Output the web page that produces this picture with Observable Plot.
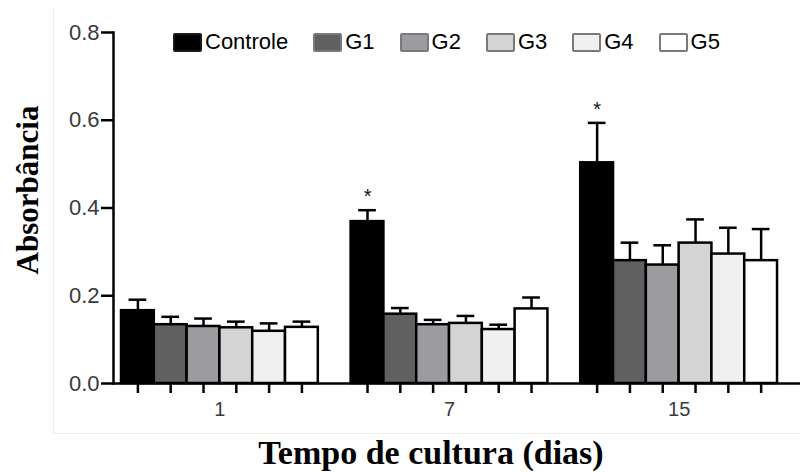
<!DOCTYPE html>
<html>
<head>
<meta charset="utf-8">
<script src="https://cdn.jsdelivr.net/npm/d3@7"></script>
<script src="https://cdn.jsdelivr.net/npm/@observablehq/plot@0.6"></script>
<style>
  html, body { margin: 0; padding: 0; background: #fff; }
  #wrap { position: relative; width: 800px; height: 472px; overflow: hidden; }
  #wrap svg { position: absolute; left: 0; top: 0; }
  .legend { position: absolute; left: 173px; top: 29px; display: flex; align-items: center; gap: 25px;
            font-family: "Liberation Sans", Arial, sans-serif; font-size: 22px; color: #000; }
  .legend .item { display: flex; align-items: center; gap: 3px; }
  .legend .sw { width: 25px; height: 15px; border: 2px solid #7a7a7a; border-radius: 2px; }
  .ytitle { position: absolute; left: 28px; top: 190px; transform: translate(-50%, -50%) rotate(-90deg);
            font-family: "Liberation Serif", "Times New Roman", serif; font-weight: bold; font-size: 31px; white-space: nowrap; }
  .xtitle { position: absolute; left: 62px; width: 738px; top: 434px; text-align: center;
            font-family: "Liberation Serif", "Times New Roman", serif; font-weight: bold; font-size: 34px; white-space: nowrap; }
  .panel { position: absolute; left: 53px; top: 8px; width: 747px; height: 425px;
           border-left: 1px solid #ededed; border-bottom: 1px solid #ededed; pointer-events: none; }
</style>
</head>
<body>
<div id="wrap"></div>
<script>
// ---- data ----
const days = ["1", "7", "15"];
const groups = ["Controle", "G1", "G2", "G3", "G4", "G5"];
const colors = ["#000000", "#606060", "#9b9ba0", "#d4d4d4", "#f0f0f0", "#ffffff"];
const yTicks = [0, 0.2, 0.4, 0.6, 0.8];

// mean absorbance per group, one value per day (1, 7, 15)
const controleMean = [0.166, 0.369, 0.503];
const g1Mean = [0.134, 0.158, 0.280];
const g2Mean = [0.130, 0.134, 0.270];
const g3Mean = [0.127, 0.137, 0.320];
const g4Mean = [0.119, 0.123, 0.295];
const g5Mean = [0.128, 0.170, 0.280];

// error (upper bar length) per group, per day
const controleErr = [0.025, 0.026, 0.091];
const g1Err = [0.018, 0.014, 0.041];
const g2Err = [0.018, 0.011, 0.045];
const g3Err = [0.014, 0.017, 0.054];
const g4Err = [0.018, 0.011, 0.060];
const g5Err = [0.013, 0.026, 0.072];

// significance marks (*) : [group, day]
const significant = [["Controle", "7"], ["Controle", "15"]];

// ---- build table ----
const means = [controleMean, g1Mean, g2Mean, g3Mean, g4Mean, g5Mean];
const errs = [controleErr, g1Err, g2Err, g3Err, g4Err, g5Err];
const slot = groups.length + 1; // one empty slot between day groups
const data = [];
days.forEach((day, di) => {
  groups.forEach((g, gi) => {
    data.push({day, group: g, pos: di * slot + gi, mean: means[gi][di], err: errs[gi][di],
               sig: significant.some(([sg, sd]) => sg === g && sd === day)});
  });
});
const barCenters = data.map(d => d.pos + 0.5);
const dayCenters = days.map((d, di) => di * slot + groups.length / 2);
const capHalf = 0.27;

const plot = Plot.plot({
  width: 800,
  height: 472,
  marginLeft: 113,
  marginRight: 0,
  marginTop: 32,
  marginBottom: 89,
  style: { fontFamily: "'Liberation Sans', Arial, sans-serif", background: "transparent", overflow: "visible" },
  x: { domain: [-0.244, days.length * slot - 0.3] },
  y: { domain: [0, 0.8] },
  color: { domain: groups, range: colors },
  marks: [
    Plot.ruleX(data, { x: d => d.pos + 0.5, y1: "mean", y2: d => d.mean + d.err, stroke: "black", strokeWidth: 2.5 }),
    Plot.ruleY(data, { y: d => d.mean + d.err, x1: d => d.pos + 0.5 - capHalf, x2: d => d.pos + 0.5 + capHalf, stroke: "black", strokeWidth: 2.5 }),
    Plot.rect(data, { x1: "pos", x2: d => d.pos + 1, y1: 0, y2: "mean", fill: "group", stroke: "black", strokeWidth: 2.5 }),
    Plot.text(data.filter(d => d.sig), { x: d => d.pos + 0.5, y: d => d.mean + d.err, text: () => "*", dy: -7, fontSize: 20, lineAnchor: "bottom", fill: "#111" }),
    Plot.axisY({ ticks: yTicks, tickFormat: d3.format(".1f"), tickSize: 12, tickPadding: 2, strokeWidth: 2.5, stroke: "black", color: "#3a3a3a", fontSize: 22, label: null }),
    Plot.axisX({ ticks: barCenters, tickFormat: () => "", tickSize: 10, strokeWidth: 2.5, stroke: "black", label: null }),
    Plot.axisX({ ticks: dayCenters, tickSize: 0, tickPadding: 18, tickFormat: (d, i) => days[i], fontSize: 20, color: "#3a3a3a", label: null }),
    Plot.ruleY([0], { stroke: "black", strokeWidth: 2.5 }),
    Plot.frame({ anchor: "left", stroke: "black", strokeWidth: 2.5 })
  ]
});

const wrap = document.getElementById("wrap");
wrap.appendChild(plot);

const panel = document.createElement("div");
panel.className = "panel";
wrap.appendChild(panel);

const legend = document.createElement("div");
legend.className = "legend";
groups.forEach((g, i) => {
  const item = document.createElement("div");
  item.className = "item";
  const sw = document.createElement("span");
  sw.className = "sw";
  sw.style.background = colors[i];
  if (i === 0) sw.style.borderColor = "#1a1a1a";
  const label = document.createElement("span");
  label.textContent = g;
  item.appendChild(sw);
  item.appendChild(label);
  legend.appendChild(item);
});
wrap.appendChild(legend);

const yt = document.createElement("div");
yt.className = "ytitle";
yt.textContent = "Absorbância";
wrap.appendChild(yt);

const xt = document.createElement("div");
xt.className = "xtitle";
xt.textContent = "Tempo de cultura (dias)";
wrap.appendChild(xt);
</script>
</body>
</html>
